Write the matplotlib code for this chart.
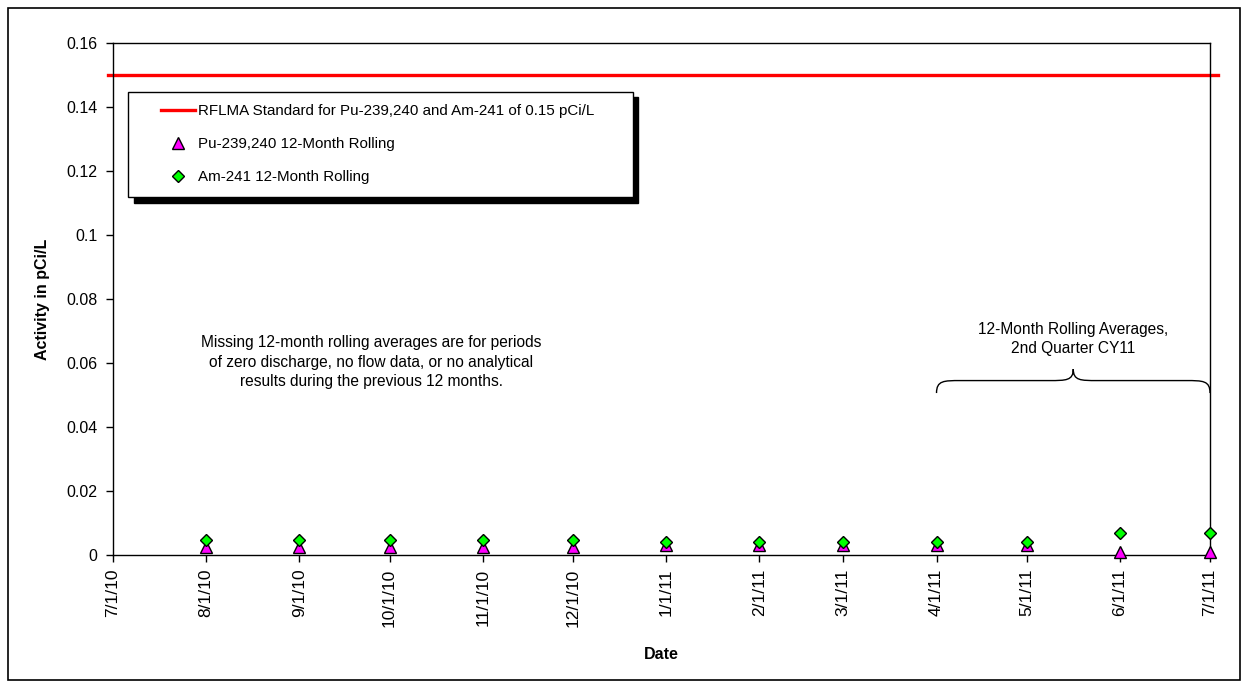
import datetime as dt
import numpy as np
import matplotlib
matplotlib.use('Agg')
import matplotlib.pyplot as plt
import matplotlib.dates as mdates
from matplotlib.path import Path
from matplotlib.patches import PathPatch, Rectangle
from matplotlib.legend_handler import HandlerLine2D

plt.rcParams['font.family'] = ['Liberation Sans', 'DejaVu Sans']

# monthly 12-month rolling averages (pCi/L)
dates = ['8/1/10', '9/1/10', '10/1/10', '11/1/10', '12/1/10', '1/1/11',
         '2/1/11', '3/1/11', '4/1/11', '5/1/11', '6/1/11', '7/1/11']
pu_values = [0.0026, 0.0026, 0.0026, 0.0026, 0.0026, 0.0030,
             0.0030, 0.0030, 0.0030, 0.0030, 0.0010, 0.0010]
am_values = [0.0047, 0.0047, 0.0047, 0.0047, 0.0047, 0.0042,
             0.0042, 0.0042, 0.0042, 0.0042, 0.0068, 0.0068]
standard = 0.15

tick_labels = ['7/1/10'] + dates
tick_dates = [dt.datetime.strptime(d, '%m/%d/%y') for d in tick_labels]
x = [dt.datetime.strptime(d, '%m/%d/%y') for d in dates]


# legend handle drawn only on the right part of the handle box
class TrimmedHandler(HandlerLine2D):
    def __init__(self, trim, **kw):
        super().__init__(**kw)
        self.trim = trim

    def get_xdata(self, legend, xdescent, ydescent, width, height, fontsize):
        x0 = -xdescent + self.trim * fontsize
        x1 = -xdescent + width
        return np.array([x0, x1]), np.array([(x0 + x1) / 2])


fig = plt.figure(figsize=(12.53, 6.90), dpi=100)
ax = fig.add_axes([0.0902, 0.1957, 0.8755, 0.742])

# outer border of the chart
fig.patches.append(Rectangle((0.0064, 0.0145), 0.9833, 0.974, transform=fig.transFigure,
                             fill=False, edgecolor='black', linewidth=1.2))

std_line = ax.axhline(standard, xmin=-0.005, xmax=1.007, color='#ff0000', linewidth=2.4,
                      clip_on=False,
                      label='RFLMA Standard for Pu-239,240 and Am-241 of 0.15 pCi/L')
pu_line, = ax.plot(x, pu_values, linestyle='none', marker='^', markersize=8.5,
                   markerfacecolor='#ff00ff', markeredgecolor='black', markeredgewidth=1,
                   label='Pu-239,240 12-Month Rolling', clip_on=False, zorder=4)
am_line, = ax.plot(x, am_values, linestyle='none', marker='D', markersize=6.2,
                   markerfacecolor='#00ff00', markeredgecolor='black', markeredgewidth=1,
                   label='Am-241 12-Month Rolling', clip_on=False, zorder=5)

ax.set_xlim(tick_dates[0], tick_dates[-1])
ax.set_ylim(0, 0.16)
ax.set_yticks([0, 0.02, 0.04, 0.06, 0.08, 0.1, 0.12, 0.14, 0.16])
ax.set_yticklabels(['0', '0.02', '0.04', '0.06', '0.08', '0.1', '0.12', '0.14', '0.16'])
ax.set_xticks(tick_dates)
ax.set_xticklabels(tick_labels, rotation=90)
ax.tick_params(axis='both', direction='out', length=5, width=1, colors='black')
ax.tick_params(axis='y', labelsize=11.5, pad=6)
ax.tick_params(axis='x', labelsize=12.5, pad=5)
for s in ax.spines.values():
    s.set_linewidth(1)
    s.set_color('black')

ax.set_xlabel('Date', fontsize=11.5, fontweight='bold', labelpad=14)
ax.set_ylabel('Activity in pCi/L', fontsize=11.5, fontweight='bold', labelpad=12)

h = TrimmedHandler(1.32)
leg = ax.legend(handles=[std_line, pu_line, am_line],
                loc='upper left', bbox_to_anchor=(0.0137, 0.904, 0.46, 0.001),
                mode='expand', fontsize=10.9, frameon=True, fancybox=False,
                shadow={'color': 'black', 'alpha': 1, 'ox': 4, 'oy': -4},
                handlelength=3.57, handletextpad=0.2, labelspacing=1.25,
                borderpad=0.85, borderaxespad=0,
                handler_map={std_line: h, pu_line: h, am_line: h})
leg.get_frame().set_edgecolor('black')
leg.get_frame().set_linewidth(1)

ax.text(mdates.date2num(dt.datetime(2010, 9, 25)), 0.0603,
        'Missing 12-month rolling averages are for periods\n'
        'of zero discharge, no flow data, or no analytical\n'
        'results during the previous 12 months.',
        ha='center', va='center', fontsize=11.2, linespacing=1.4)

# brace over 2nd quarter CY11
x0 = mdates.date2num(dt.datetime(2011, 4, 1))
x1 = mdates.date2num(dt.datetime(2011, 7, 1))
xc = (x0 + x1) / 2
y0, ym, yt = 0.0506, 0.0545, 0.0581
r = 8
verts = [(x0, y0), (x0, ym), (x0 + r * 0.3, ym), (x0 + r, ym),
         (xc - r, ym),
         (xc - r * 0.3, ym), (xc, ym), (xc, yt),
         (xc, ym), (xc + r * 0.3, ym), (xc + r, ym),
         (x1 - r, ym),
         (x1 - r * 0.3, ym), (x1, ym), (x1, y0)]
codes = [Path.MOVETO, Path.CURVE4, Path.CURVE4, Path.CURVE4,
         Path.LINETO,
         Path.CURVE4, Path.CURVE4, Path.CURVE4,
         Path.CURVE4, Path.CURVE4, Path.CURVE4,
         Path.LINETO,
         Path.CURVE4, Path.CURVE4, Path.CURVE4]
ax.add_patch(PathPatch(Path(verts, codes), fill=False, edgecolor='black', linewidth=1))
ax.text(xc, 0.0675, '12-Month Rolling Averages,\n2nd Quarter CY11',
        ha='center', va='center', fontsize=11.2, linespacing=1.4)

fig.savefig('out.png', dpi=100)
